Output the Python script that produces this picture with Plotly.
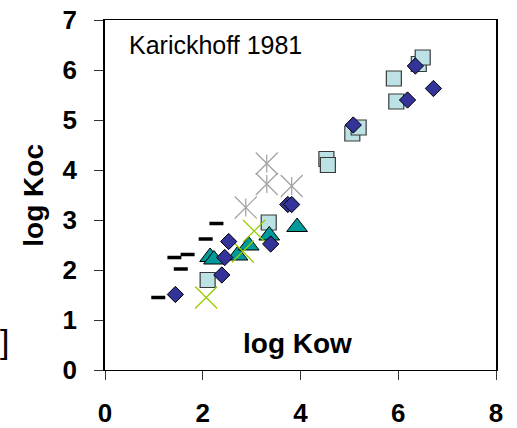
import plotly.graph_objects as go

# log Kow / log Koc pairs by compound group
diamond_x = [1.44, 2.39, 2.45, 2.53, 3.39, 3.74, 3.82, 5.08, 6.19, 6.35, 6.72]
diamond_y = [1.51, 1.90, 2.25, 2.57, 2.52, 3.31, 3.31, 4.90, 5.40, 6.08, 5.63]

square_x = [2.10, 3.35, 4.53, 4.56, 5.06, 5.19, 5.91, 5.96, 6.42, 6.50]
square_y = [1.80, 2.95, 4.22, 4.10, 4.73, 4.85, 5.83, 5.37, 6.12, 6.25]

triangle_x = [2.15, 2.23, 2.71, 2.94, 3.36, 3.93]
triangle_y = [2.26, 2.21, 2.29, 2.49, 2.69, 2.86]

cross_x = [2.07, 2.82, 3.05]
cross_y = [1.45, 2.37, 2.78]

star_x = [2.88, 3.31, 3.31, 3.82]
star_y = [3.25, 4.13, 3.72, 3.68]

dash_x = [1.09, 1.42, 1.69, 1.55, 2.06, 2.28]
dash_y = [1.45, 2.25, 2.31, 2.02, 2.62, 2.93]

x_ticks = [0, 2, 4, 6, 8]
y_ticks = [0, 1, 2, 3, 4, 5, 6, 7]

FONT = "Liberation Sans, Arial, sans-serif"

fig = go.Figure()

fig.add_trace(go.Scatter(
    x=dash_x, y=dash_y, mode="markers",
    marker=dict(symbol="line-ew-open", size=10, color="black",
                line=dict(color="black", width=3.5)),
))
fig.add_trace(go.Scatter(
    x=star_x, y=star_y, mode="markers",
    marker=dict(symbol="x-thin-open", size=22, color="#a0a0a0",
                line=dict(color="#a0a0a0", width=1.2)),
))
fig.add_trace(go.Scatter(
    x=star_x, y=star_y, mode="markers",
    marker=dict(symbol="line-ns-open", size=13, color="#a0a0a0",
                line=dict(color="#a0a0a0", width=1.2)),
))
fig.add_trace(go.Scatter(
    x=square_x, y=square_y, mode="markers",
    marker=dict(symbol="square", size=15, color="#bce2e5",
                line=dict(color="#3a3a3a", width=1.2)),
))
fig.add_trace(go.Scatter(
    x=triangle_x, y=triangle_y, mode="markers",
    marker=dict(symbol="triangle-up", size=18, color="#009a9a",
                line=dict(color="black", width=1)),
))
fig.add_trace(go.Scatter(
    x=cross_x, y=cross_y, mode="markers",
    marker=dict(symbol="x-thin-open", size=22, color="#99cc00",
                line=dict(color="#99cc00", width=1.3)),
))
fig.add_trace(go.Scatter(
    x=diamond_x, y=diamond_y, mode="markers",
    marker=dict(symbol="diamond", size=12.5, color="#333399",
                line=dict(color="black", width=1)),
))

fig.update_layout(
    width=517, height=428,
    margin=dict(l=105, r=21, t=20, b=58),
    paper_bgcolor="white", plot_bgcolor="white",
    showlegend=False,
    xaxis=dict(
        range=[0, 8], tickvals=x_ticks, ticktext=[str(v) for v in x_ticks],
        showgrid=False, zeroline=False, automargin=False,
        showline=True, mirror=True, linecolor="black", linewidth=1,
        ticks="outside", ticklen=9, tickcolor="#333333", tickwidth=1,
        ticklabelstandoff=11,
        tickfont=dict(family=FONT, size=26, color="black", weight="bold"),
    ),
    yaxis=dict(
        range=[0, 7], tickvals=y_ticks, ticktext=[str(v) for v in y_ticks],
        showgrid=False, zeroline=False, automargin=False,
        showline=True, mirror=True, linecolor="black", linewidth=1.5,
        ticks="outside", ticklen=9, tickcolor="#333333", tickwidth=1,
        ticklabelstandoff=12,
        tickfont=dict(family=FONT, size=26, color="black", weight="bold"),
    ),
    annotations=[
        dict(text="Karickhoff 1981", x=0.055, y=0.975, xref="paper", yref="paper",
             xanchor="left", yanchor="top", showarrow=False,
             font=dict(family=FONT, size=25, color="black")),
        dict(text="<b>log Kow</b>", x=3.93, y=0.54, xref="x", yref="y",
             xanchor="center", yanchor="middle", showarrow=False,
             font=dict(family=FONT, size=28, color="black")),
        dict(text="<b>log Koc</b>", x=-0.185, y=0.5, xref="paper", yref="paper",
             xanchor="center", yanchor="middle", textangle=-90, showarrow=False,
             font=dict(family=FONT, size=28, color="black")),
        dict(text="]", x=-0.24, y=0.083, xref="paper", yref="paper",
             xanchor="right", yanchor="middle", showarrow=False,
             font=dict(family=FONT, size=34, color="black")),
    ],
)

fig.write_html("out.html")
